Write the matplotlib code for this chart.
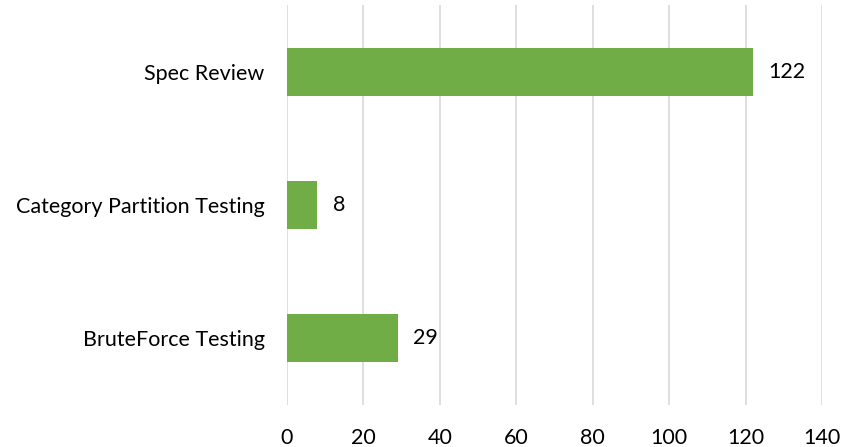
import matplotlib.pyplot as plt

categories = ["BruteForce Testing", "Category Partition Testing", "Spec Review"]
values = [29, 8, 122]
x_ticks = [0, 20, 40, 60, 80, 100, 120, 140]

BAR_COLOR = "#70AD47"
GRID_COLOR = "#D9D9D9"
TEXT_COLOR = "#000000"

plt.rcParams["font.family"] = ["Lato", "DejaVu Sans"]
FS = 15.5

fig = plt.figure(figsize=(8.46, 4.47), dpi=100)
ax = fig.add_axes([0.339, 0.095, 0.633, 0.893])

pos = range(len(categories))
bars = ax.barh(pos, values, height=0.36, color=BAR_COLOR, zorder=3)
for b, v in zip(bars, values):
    ax.text(b.get_width() + 4, b.get_y() + b.get_height() / 2, str(v),
            va="center", ha="left", fontsize=FS, color=TEXT_COLOR)

ax.set_xlim(0, 140)
ax.set_ylim(-0.5, 2.5)
ax.set_xticks(x_ticks)
ax.set_yticks(list(pos))
ax.set_yticklabels(categories)
ax.tick_params(axis="both", length=0, labelsize=FS, colors=TEXT_COLOR)
ax.tick_params(axis="x", pad=17)
ax.tick_params(axis="y", pad=16)
ax.grid(axis="x", color=GRID_COLOR, linewidth=1.2, zorder=0)
for s in ax.spines.values():
    s.set_visible(False)

fig.savefig("out.png", dpi=100)
